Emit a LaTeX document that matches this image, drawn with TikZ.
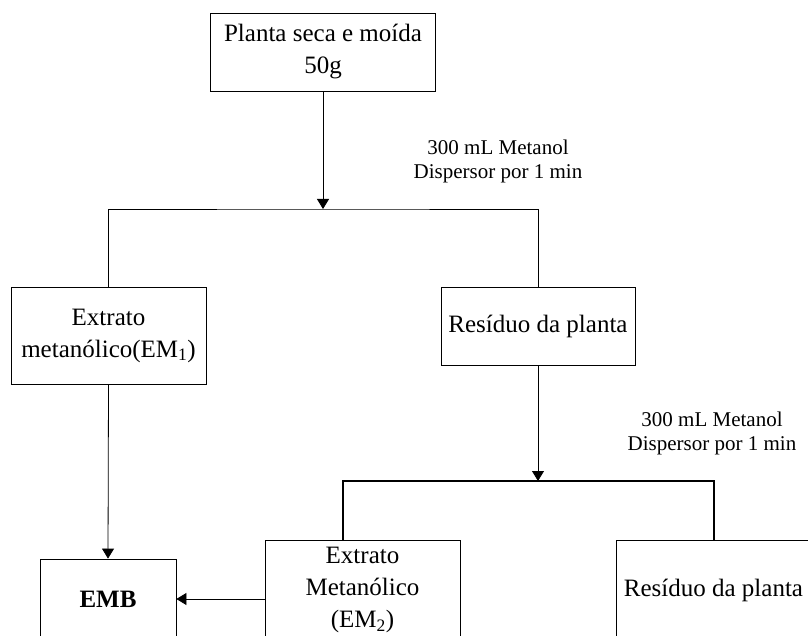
\documentclass[tikz,border=0pt]{standalone}
\usepackage{fontspec}
\setmainfont{Liberation Serif}
\usetikzlibrary{arrows.meta, positioning, calc}
\tikzstyle{arrow} = [line width=0.8pt, -{Triangle[length=10pt,width=12pt]}]
\tikzstyle{branch} = [line width=0.8pt]
\tikzstyle{stepbox} = [rectangle, draw=black, line width=0.8pt, align=center, inner sep=0pt, font=\fontsize{25}{32}\selectfont]
\tikzstyle{note} = [align=center, font=\fontsize{21}{24}\selectfont]

\begin{document}
\begin{tikzpicture}[x=1pt, y=1pt]
    \useasboundingbox (0,0) rectangle (808,635);
    \clip (0,0) rectangle (808,635);

    % First extraction
    \node[stepbox, minimum width=225pt, minimum height=78pt] (planta) at (323,583) {Planta seca e moída\\50g};
    \coordinate (split1) at (323,426);
    \node[note] (cond1) at (498,474) {300 mL Metanol\\Dispersor por 1 min};
    \node[stepbox, minimum width=195pt, minimum height=97pt] (em1) at (108.5,299.5) {Extrato\\metanólico(EM\textsubscript{1})};
    \node[stepbox, minimum width=194pt, minimum height=78pt] (res1) at (538,309) {Resíduo da planta};

    % Second extraction
    \coordinate (split2) at (538,154);
    \node[note] (cond2) at (712,202) {300 mL Metanol\\Dispersor por 1 min};
    \node[stepbox, minimum width=195pt, minimum height=100pt] (em2) at (362.5,45) {Extrato\\Metanólico\\(EM\textsubscript{2})};
    \node[stepbox, minimum width=195pt, minimum height=100pt] (res2) at (713.5,45) {Resíduo da planta};
    \node[stepbox, minimum width=136pt, minimum height=80pt] (emb) at (108,36) {\textbf{EMB}};

    % Connectors
    \draw[arrow] (planta.south) -- (split1);
    \draw[branch] (em1.north) |- (split1) -| (res1.north);
    \draw[arrow] (res1.south) -- (split2);
    \draw[branch, line width=2pt] ([xshift=-19.5pt]em2.north) |- (split2) -| (res2.north);
    \draw[arrow] (em1.south) -- (emb.north);
    \draw[arrow] (em2.west |- emb) -- (emb.east);

\end{tikzpicture}
\end{document}
